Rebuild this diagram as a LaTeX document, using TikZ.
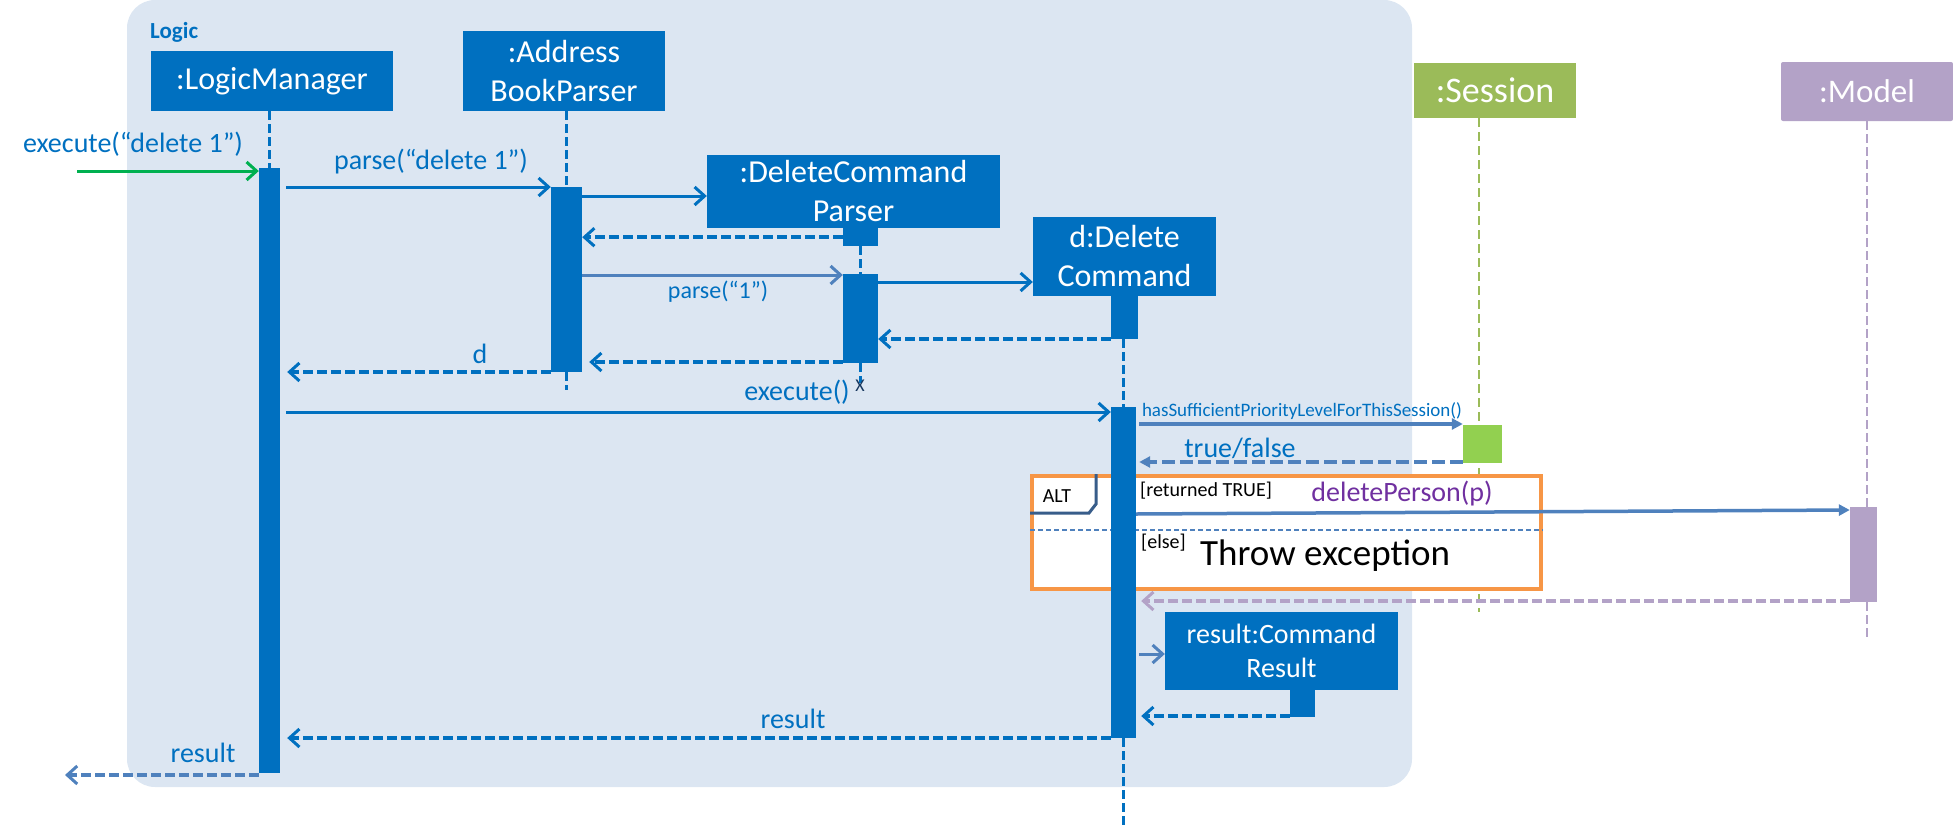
\documentclass[tikz,border=0pt]{standalone}
\usepackage{fontspec}
\setmainfont{Carlito}
\usetikzlibrary{arrows.meta}
\definecolor{logicbg}{HTML}{DCE6F2}
\definecolor{objblue}{HTML}{0070C0}
\definecolor{msgblue}{HTML}{4F81BD}
\definecolor{sessgreen}{HTML}{9BBB59}
\definecolor{sessbar}{HTML}{92D050}
\definecolor{modlilac}{HTML}{B3A2C7}
\definecolor{altorange}{HTML}{F79646}
\definecolor{altnavy}{HTML}{385D8A}
\definecolor{callpurple}{HTML}{7030A0}
\definecolor{foundgreen}{HTML}{00B050}
\definecolor{killnavy}{HTML}{17375E}
\begin{document}
\begin{tikzpicture}
[x=1pt,y=-1pt,
  objdecorate/.style={fill=objblue,text=white,inner sep=0pt,align=center,
    font=\fontsize{32}{39}\selectfont},
  bardecorate/.style={fill=objblue,inner sep=0pt,anchor=north},
  lifedecorate/.style={draw=objblue,line width=2.5pt,dash pattern=on 9pt off 4pt},
  msgdecorate/.style={draw=objblue,line width=3pt,
    -{Straight Barb[length=10pt,width=18pt,line width=3pt]}},
  retdecorate/.style={msgdecorate,line width=3.5pt,dash pattern=on 10pt off 4pt},
  calldecorate/.style={draw=msgblue,line width=3.5pt,-{Triangle[length=11pt,width=11pt]}},
  labeldecorate/.style={text=objblue,inner sep=0pt,font=\fontsize{28}{30}\selectfont},
  guarddecorate/.style={anchor=west,inner sep=0pt,font=\fontsize{20}{22}\selectfont}]
\useasboundingbox (0,0) rectangle (1953,827);
%% the Logic component
\fill[logicbg,rounded corners=28pt] (127,0) rectangle (1412,787);
\node (logic) at (150,32) [anchor=west,inner sep=0pt,text=objblue,
  font=\bfseries\fontsize{23}{26}\selectfont] {Logic};
%% object boxes
\foreach \nodename/\x/\y/\w/\h/\txt in {
  lm/272/81/242/60/{:LogicManager},
  abp/564/71/202/80/{:Address\\BookParser},
  dcp/853.5/191.5/293/73/{:DeleteCommand\\Parser},
  dc/1124.5/256.5/183/79/{d:Delete\\Command}} {
  \node (\nodename) at (\x,\y) [objdecorate,minimum width=\w pt,minimum height=\h pt] {\txt};
}
\node (res) at (1281.5,651) [objdecorate,font=\fontsize{28}{34}\selectfont,
  minimum width=233pt,minimum height=78pt] {result:Command\\Result};
\node (ses) at (1495,90.5) [objdecorate,fill=sessgreen,font=\fontsize{36}{40}\selectfont,
  minimum width=162pt,minimum height=55pt] {:Session};
\node (mod) at (1867,91.5) [objdecorate,fill=modlilac,rounded corners=2pt,
  font=\fontsize{33}{38}\selectfont,minimum width=172pt,minimum height=59pt] {:Model};
%% lifelines outside the Logic component
\coordinate (seslife) at (1479,118);
\draw[sessgreen,line width=2pt,dash pattern=on 9pt off 5pt] (seslife) -- ++(0,494);
\draw[modlilac,line width=2.5pt,dash pattern=on 9pt off 4pt] (mod.south) -- ++(0,516);
%% alt frame
\node (alt) at (1030,474) [anchor=north west,draw=altorange,line width=3.5pt,fill=white,
  inner sep=0pt,minimum width=509pt,minimum height=113pt] {};
\draw[altnavy,line width=3pt] (alt.north west |- 0,513) -- (1089,513) -- (1096,504) -- (1096,474);
\draw[msgblue,line width=2pt,dash pattern=on 5pt off 3pt] (alt.west |- 0,530) -- (alt.east |- 0,530);
%% activation bars
\foreach \nodename/\x/\y/\w/\h in {
  lmA/269.5/168/21/605, abpA/566.5/187/31/185,
  dcpS/860.5/228/35/18, dcpA/860.5/274/35/89,
  dcS/1124.5/296/27/43, dcA/1123.5/407/25/331,
  resS/1302.5/690/25/27} {
  \node (\nodename) at (\x,\y) [bardecorate,minimum width=\w pt,minimum height=\h pt] {};
}
\node (sesA) at (1482.5,425) [bardecorate,fill=sessbar,minimum width=39pt,minimum height=38pt] {};
\node (modA) at (1863.5,507) [bardecorate,fill=modlilac,minimum width=27pt,minimum height=95pt] {};
%% lifelines inside the Logic component
\foreach \startnode/\endnode in {lm/lmA, abp/abpA, dcpS/dcpA, dcS/dcA} {
  \draw[lifedecorate] (\endnode.north |- \startnode.south) -- (\endnode.north);
}
\draw[lifedecorate] (abpA.south) -- ++(0,18);
\draw[lifedecorate] (dcpA.south) -- ++(0,20);
\draw[lifedecorate] (dcA.south) -- ++(0,89);
\node (kill) at (860,386) [inner sep=0pt,text=killnavy,font=\fontsize{18}{20}\selectfont] {X};
%% messages
\coordinate (entry) at (77,171);
\coordinate (exit) at (65,775);
\draw[msgdecorate,draw=foundgreen] (entry) -- (lmA.west |- entry);
\draw[msgdecorate,shorten <=6pt] (lmA.east |- 0,187) -- (abpA.west |- 0,187);
\draw[msgdecorate] (abpA.east |- 0,196) -- (dcp.west |- 0,196);
\draw[retdecorate] (dcpS.west) -- (abpA.east |- dcpS.west);
\draw[msgdecorate,draw=msgblue] (abpA.east |- 0,275) -- (dcpA.west |- 0,275);
\draw[msgdecorate] (dcpA.east |- 0,282) -- (dc.west |- 0,282);
\draw[retdecorate] (dcS.west |- 0,339) -- (dcpA.east |- 0,339);
\draw[retdecorate,shorten >=7pt] (dcpA.west |- 0,362) -- (abpA.east |- 0,362);
\draw[retdecorate,shorten >=7pt] (abpA.west |- 0,372) -- (lmA.east |- 0,372);
\draw[msgdecorate,shorten <=6pt] (lmA.east |- 0,412) -- (dcA.west |- 0,412);
\draw[calldecorate,shorten <=3pt] (dcA.east |- 0,424) -- (sesA.west |- 0,424);
\draw[calldecorate,dash pattern=on 13pt off 5pt,shorten >=3pt]
  (sesA.west |- 0,462) -- (dcA.east |- 0,462);
\draw[calldecorate] (dcA.east |- 0,514) -- (modA.west |- 0,510);
\draw[retdecorate,draw=modlilac,shorten >=5pt] (modA.west |- 0,601) -- (dcA.east |- 0,601);
\draw[msgdecorate,draw=msgblue,shorten <=3pt] (dcA.east |- 0,654) -- (res.west |- 0,654);
\draw[retdecorate,shorten >=5pt] (resS.west |- 0,716) -- (dcA.east |- 0,716);
\draw[retdecorate,shorten >=7pt] (dcA.west |- 0,738) -- (lmA.east |- 0,738);
\draw[retdecorate,draw=msgblue] (lmA.west |- exit) -- (exit);
%% message labels
\node (entrylbl) at (133,144) [labeldecorate] {execute(“delete 1”)};
\node (parselbl) at (431,162) [labeldecorate] {parse(“delete 1”)};
\node (parseonelbl) at (718,292) [labeldecorate,font=\fontsize{24}{26}\selectfont] {parse(“1”)};
\node (dlbl) at (480,354) [labeldecorate] {d};
\node (execlbl) at (797,392) [labeldecorate] {execute()};
\node (prioritylbl) at (1302,411) [labeldecorate,font=\fontsize{19}{21}\selectfont]
  {hasSufficientPriorityLevelForThisSession()};
\node (boollbl) at (1240,448) [labeldecorate] {true/false};
\node (altlbl) at (1057,496) [inner sep=0pt,font=\fontsize{20}{22}\selectfont] {ALT};
\node (truelbl) at (1140,491) [guarddecorate] {[returned TRUE]};
\node (deletelbl) at (1402,494) [labeldecorate,text=callpurple] {deletePerson(p)};
\node (elselbl) at (1141,543) [guarddecorate] {[else]};
\node (throwlbl) at (1200,556) [guarddecorate,font=\fontsize{37}{40}\selectfont] {Throw exception};
\node (resultlbl) at (793,719) [labeldecorate] {result};
\node (outlbl) at (203,753) [labeldecorate] {result};
\end{tikzpicture}
\end{document}
